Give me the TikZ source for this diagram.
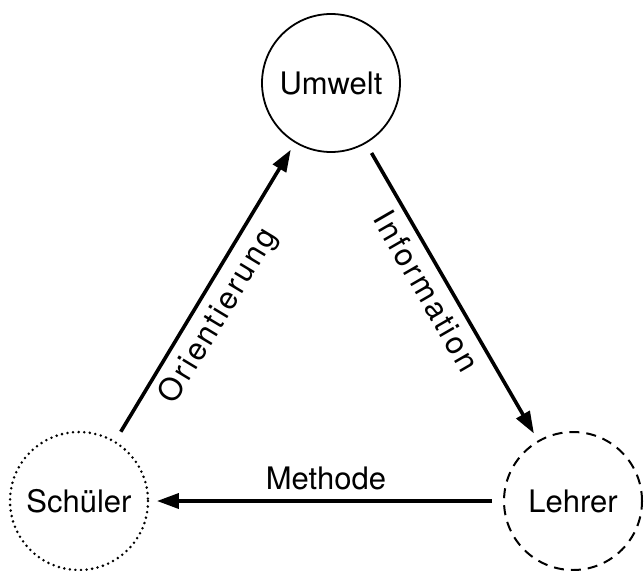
\documentclass[tikz,border=0pt]{standalone}
\usepackage{fontspec}
\setmainfont{TeX Gyre Heros}
\newfontfamily\gesperrt[LetterSpace=8]{TeX Gyre Heros}
\usetikzlibrary{arrows.meta}

\begin{document}
\begin{tikzpicture}[x=1pt, y=-1pt,
		ort/.style={circle, draw, line width=1.8pt, minimum size=138pt, inner sep=0pt, font=\fontsize{31}{36}\selectfont},
		pfeil/.style={line width=3.6pt, -{Triangle[length=22pt, width=15pt]}, shorten <=11pt, shorten >=8pt},
		schraeg/.style={font=\gesperrt\fontsize{31}{36}\selectfont, inner sep=8pt, sloped, below, pos=0.46},
		gerade/.style={font=\fontsize{31}{36}\selectfont, inner sep=9pt, above}]
			%%%%% START %%%%%
			
			\useasboundingbox (0, 0) rectangle (644, 570);
			
			\node[ort] (umwelt) at (331, 83) {Umwelt};
			\node[ort, draw=none] (schueler) at (79, 501) {Schüler};
			\draw[line width=2.8pt, line cap=round, dash pattern=on 0pt off 5.6pt] (schueler) circle (69);
			\node[ort, line width=2pt, dash pattern=on 10pt off 7pt] (lehrer) at (573, 501) {Lehrer};
			
			\draw[pfeil] (schueler) -- node[schraeg] {Orientierung} (umwelt);
			\draw[pfeil] (umwelt) -- node[schraeg] {Information} (lehrer);
			\draw[pfeil] (lehrer) -- node[gerade] {Methode} (schueler);
			
			%%%%% END %%%%%
\end{tikzpicture}
\end{document}
